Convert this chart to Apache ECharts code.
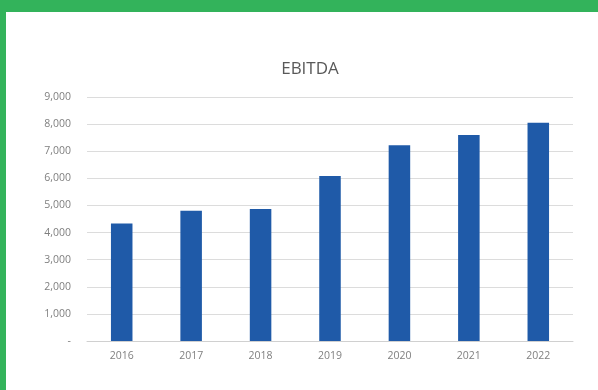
<!DOCTYPE html>
<html>
<head>
<meta charset="utf-8">
<script src="https://cdn.jsdelivr.net/npm/echarts@6/dist/echarts.min.js"></script>
<style>
  html, body { margin: 0; padding: 0; }
  body { width: 598px; height: 390px; background: #33b35b; position: relative; overflow: hidden; }
  #chart { position: absolute; left: 6px; top: 12px; width: 592px; height: 378px; background: #fff; }
</style>
</head>
<body>
<div id="chart"></div>
<script>
var years = ['2016', '2017', '2018', '2019', '2020', '2021', '2022'];
var ebitda = [4330, 4800, 4870, 6090, 7220, 7600, 8050];

var myChart = echarts.init(document.getElementById('chart'));
var option = {
    backgroundColor: '#ffffff',
    animation: false,
    title: {
        text: 'EBITDA',
        left: 299,
        top: 44,
        textAlign: 'center',
        textStyle: { fontFamily: 'Open Sans', fontSize: 17, fontWeight: 'normal', color: '#595959' }
    },
    grid: { left: 81, right: 25, top: 85, bottom: 49 },
    xAxis: {
        type: 'category',
        data: years,
        axisLine: { lineStyle: { color: '#d0d0d0' } },
        axisTick: { show: false },
        axisLabel: { color: '#7f7f7f', fontFamily: 'Open Sans', fontSize: 10.5, margin: 10 }
    },
    yAxis: {
        type: 'value',
        min: 0,
        max: 9000,
        interval: 1000,
        axisLine: { show: false },
        axisTick: { show: false },
        splitLine: { lineStyle: { color: '#dcdcdc' } },
        axisLabel: {
            color: '#7f7f7f', fontFamily: 'Open Sans', fontSize: 10.5, margin: 16,
            formatter: function (v) { return v === 0 ? '-' : v.toLocaleString('en-US'); }
        }
    },
    series: [{
        name: 'EBITDA',
        type: 'bar',
        data: ebitda,
        barWidth: '31%',
        itemStyle: { color: '#1f5aa8' }
    }]
};
myChart.setOption(option);
</script>
</body>
</html>
